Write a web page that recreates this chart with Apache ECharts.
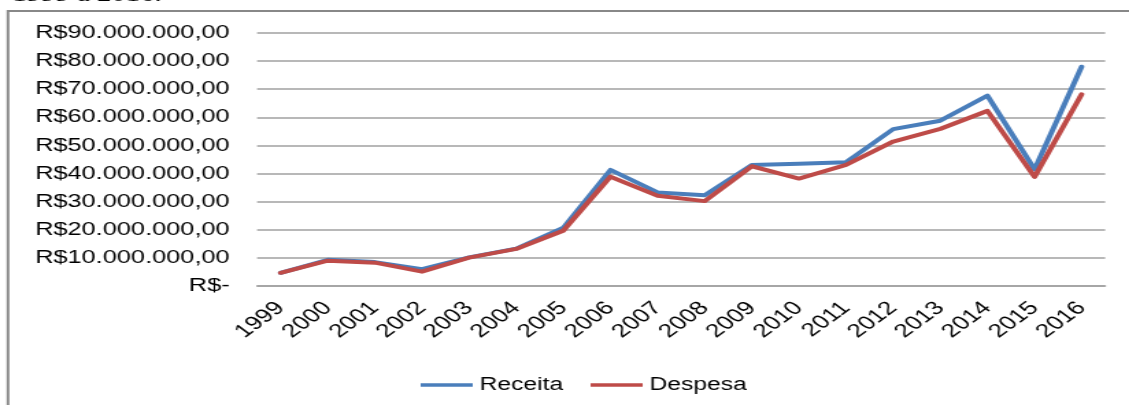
<!DOCTYPE html>
<html>
<head>
    <meta charset="utf-8">
    <title>Receita x Despesa</title>
    <style>
        html, body { margin: 0; padding: 0; background: #fff; overflow: hidden; }
        /* the source figure is a horizontally stretched screenshot, so stretch the same way */
        #main {
            width: 824px;
            height: 405px;
            transform: scaleX(1.3702);
            transform-origin: 0 0;
        }
    </style>
</head>
<body>
    <div id="main"></div>
    <script src="https://cdn.jsdelivr.net/npm/echarts@6/dist/echarts.min.js"></script>
    <script type="text/javascript">
        var arrAnos = ["1999", "2000", "2001", "2002", "2003", "2004", "2005", "2006", "2007",
                       "2008", "2009", "2010", "2011", "2012", "2013", "2014", "2015", "2016"];
        // valores em reais
        var arrReceita = [4700000, 9300000, 8500000, 6000000, 10200000, 13300000, 20700000, 41300000, 33300000,
                          32300000, 43000000, 43500000, 44000000, 55800000, 58800000, 67700000, 41500000, 78000000];
        var arrDespesa = [4700000, 9000000, 8300000, 5100000, 10100000, 13200000, 19700000, 38900000, 32100000,
                          30200000, 42600000, 38200000, 43100000, 51400000, 55900000, 62300000, 38800000, 68200000];
        var arrColor = ["#4a7ebb", "#be4b48"];
        var fonte = "'Liberation Sans', Arial, sans-serif";

        function FormataReal(v) {
            if (v == 0) return "R$-";
            var s = String(Math.round(v)).replace(/\B(?=(\d{3})+(?!\d))/g, ".");
            return "R$" + s + ",00";
        }

        var myChart = echarts.init(document.getElementById('main'));

        var _Option = {
            animation: false,
            color: arrColor,
            graphic: [
                {
                    type: 'text',
                    left: 9,
                    top: -15,
                    style: {
                        text: '1999 a 2016.',
                        font: "21px 'Liberation Serif', 'Times New Roman', serif",
                        fill: '#000'
                    }
                },
                {
                    type: 'rect',
                    shape: { x: 5.8, y: 11, width: 900, height: 500 },
                    style: { fill: 'none', stroke: '#888', lineWidth: 2 },
                    z: -1
                }
            ],
            grid: {
                left: 187.6,
                right: 17.4,
                top: 33,
                bottom: 119
            },
            legend: {
                left: 302,
                top: 371,
                icon: 'rect',
                itemWidth: 38,
                itemHeight: 3.5,
                itemGap: 20,
                textStyle: { fontFamily: fonte, fontSize: 18, color: '#000' },
                data: ['Receita', 'Despesa']
            },
            xAxis: {
                type: 'category',
                boundaryGap: true,
                data: arrAnos,
                axisLine: { lineStyle: { color: '#a0a0a0', width: 1.5 } },
                axisTick: { show: false },
                axisLabel: {
                    rotate: 45,
                    margin: 19,
                    interval: 0,
                    fontFamily: fonte,
                    fontSize: 19,
                    color: '#000'
                }
            },
            yAxis: {
                type: 'value',
                min: 0,
                max: 90000000,
                interval: 10000000,
                axisLine: { show: false },
                axisTick: { show: false },
                splitLine: { lineStyle: { color: '#a0a0a0', width: 1.5 } },
                axisLabel: {
                    margin: 20,
                    fontFamily: fonte,
                    fontSize: 18.5,
                    color: '#000',
                    formatter: FormataReal
                }
            },
            series: [
                {
                    name: 'Receita',
                    type: 'line',
                    data: arrReceita,
                    symbol: 'none',
                    lineStyle: { width: 4, color: arrColor[0], cap: 'round', join: 'round' },
                    itemStyle: { color: arrColor[0] }
                },
                {
                    name: 'Despesa',
                    type: 'line',
                    data: arrDespesa,
                    symbol: 'none',
                    lineStyle: { width: 4, color: arrColor[1], cap: 'round', join: 'round' },
                    itemStyle: { color: arrColor[1] }
                }
            ]
        };
        myChart.setOption(_Option);
    </script>
</body>
</html>
